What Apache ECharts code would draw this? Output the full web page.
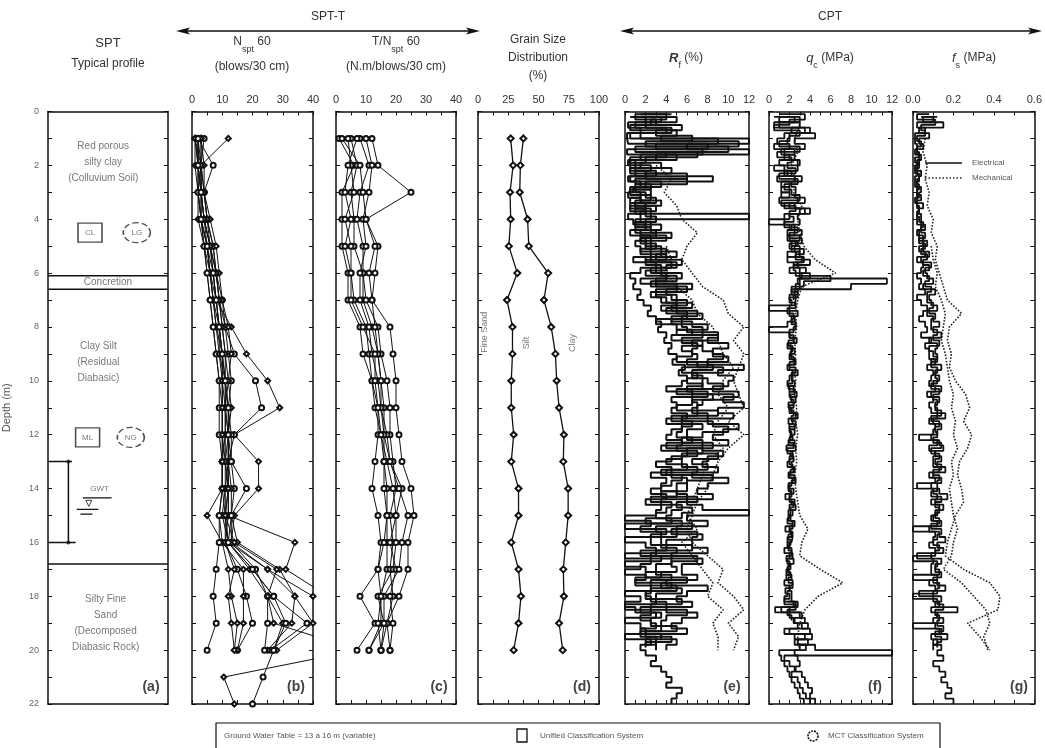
<!DOCTYPE html>
<html><head><meta charset="utf-8">
<script src="https://cdn.jsdelivr.net/npm/echarts/dist/echarts.min.js"></script>
<style>html,body{margin:0;padding:0;background:#fff}#c{width:1045px;height:748px}</style>
</head><body><div id="c"></div><script>
// ---------------- DATA ----------------
const SPT_DEPTHS = [1,2,3,4,5,6,7,8,9,10,11,12,13,14,15,16,17,18,19,20,21,22];
// N_spt60 (blows/30 cm), one list per borehole, depth 1..22 m
const N60_BOREHOLES = [
  [1,1,2,2,4,5,6,7,8,9,10,10,10,10,9,10,12,13,15,14],
  [2,2,3,3,5,6,7,8,9,11,11,11,11,11,11,11,15,18,20,15],
  [3,3,3,4,6,7,8,9,10,10,10,10,11,12,11,12,19,25,30,27],
  [12,3,2,3,4,6,8,13,18,25,29,14,22,22,14,13,25,40,45],
  [2,7,4,5,7,8,9,11,14,21,23,14,12,11,10,12,20,27,38,26],
  [1,2,2,3,5,6,7,9,10,10,11,11,10,10,5,10,17,17,17,15],
  [2,3,3,4,6,8,9,10,11,11,12,12,12,12,11,12,25,34,33,25],
  [4,3,4,5,7,8,10,11,12,13,12,13,13,14,13,13,21,25,25,24],
  [3,4,4,6,8,9,10,12,13,12,13,12,12,12,12,34,31,45],
  [1,2,3,4,5,6,7,8,10,11,11,12,12,13,13,15,29,34,40,28],
  [2,2,2,3,4,5,6,7,8,9,9,9,10,10,9,9,8,7,8,5],
  [3,3,4,5,6,8,9,10,11,12,11,12,11,12,12,11,14,12,13,14],
  [1,3,3,4,6,7,8,9,9,10,10,10,10,10,11,14,28,25,27,55,10.5,14],
  [2,2,3,3,5,7,8,9,10,11,12,12,13,18,13,12,20,27,31,27,23.5,20]
];
// T/N_spt60 (N.m/blows/30 cm), depth 1..20 m
const TN60_BOREHOLES = [
  [1,6,2,2,2,4,4,8,9,12,14,14,13,12,14,15,14,8,13,7],
  [5,7,5,6,6,9,9,12,14,15,16,16,16,17,17,17,17,15,15,11],
  [8,11,8,7,9,9,10,14,15,17,18,18,19,20,18,19,18,19,17,15],
  [12,14,25,10,14,13,12,18,19,20,20,21,22,25,26,24,24,21,17,18],
  [4,5,6,3,5,5,6,10,11,12,13,15,17,19,20,20,19,14,16,15],
  [10,12,11,9,10,8,8,11,12,14,15,17,18,22,20,18,20,18,19,18],
  [2,8,9,10,13,11,12,13,14,15,15,16,18,21,24,22,21,16,16,11],
  [7,4,3,5,3,5,5,9,13,13,14,15,16,16,17,16,14,15,14,15]
];
// Grain size distribution (%), cumulative, depth 1..20 m
const FINE_SAND = [27,29,26.5,27,25.5,32.5,24,28.5,28.5,27.5,27.5,29.5,27.5,33.5,33.5,27.5,33.5,35.5,33.5,29.5];
const FINE_SAND_PLUS_SILT = [37.5,35,34.5,41,42,58,54.5,60.5,64,65,67,71,70.5,74.5,74.5,72.5,70.5,71,67,70];

// CPT electrical readings every 0.2 m (traces start at 0.2 m or 0.1 m)
const CPT_STEP = 0.2;
const START_A = 0.2, START_B = 0.1;
const RF_E1 = [
 3.5,5.0,2.0,4.5,1.5, 12,6.0,12,3.0,1.0, 2.5,1.0,8.5,2.0,0.5, 2.0,3.0,1.0,2.5,12,
 2.0,3.5,1.5,4.0,2.5, 3.5,5.0,2.5,4.5,3.0, 5.5,3.0,6.5,4.0,5.0, 6.0,4.5,7.0,5.5,6.5,
 7.5,9.0,8.0,10.0,8.5, 9.5,8.0,11.5,9.0,10.5, 10.0,8.5,11.0,9.5,11.5, 9.0,10.5,8.0,11.0,9.5,
 8.5,10.0,7.5,9.5,8.0, 7.5,9.0,6.5,10.0,8.0, 7.0,8.5,6.0,7.5,12, 6.0,8.0,5.0,7.0,6.5,
 6.5,8.0,4.5,7.5,5.5, 5.5,7.0,4.0,8.0,6.0, 5.0,6.5,4.0,7.0,5.5, 4.5,6.0,3.5,5.0,4.0];
const RF_E2 = [
 0.5,2.0,0.3,1.5,0.2, 0.3,8.0,0.2,5.0,0.3, 0.5,2.0,0.3,3.5,0.8, 0.3,1.5,0.5,2.0,0.3,
 0.8,2.0,0.5,2.5,1.0, 1.5,2.5,0.8,3.0,1.5, 0.5,1.0,0.8,1.5,1.2, 1.8,2.5,2.2,3.0,3.5,
 3.2,4.0,3.8,4.5,4.2, 5.0,4.6,5.8,5.2,6.0, 5.5,4.0,6.5,4.5,5.0, 4.5,6.0,4.0,5.5,4.5,
 4.0,5.5,3.5,6.0,4.5, 3.0,4.5,2.5,4.0,3.5, 2.5,4.0,2.0,3.5,3.0, 0,2.5,1.5,3.5,0,
 2.0,3.0,0,2.5,1.5, 0,2.0,1.0,2.5,0, 1.5,0,1.0,3.0,0, 1.5,2.0,0,2.5,1.5,
 2.0,3.0,2.5,3.5,4.0, 4.5,4.0,5.5,5.0,4.5];
const RF_E3 = [
 2.0,3.5,1.0,4.0,0.5, 9.0,3.0,7.5,1.5,0.5, 1.0,3.0,0.5,1.5,1.0, 1.5,0.5,2.0,1.0,2.5,
 1.0,2.0,3.0,1.5,2.0, 2.5,3.5,2.0,5.0,2.5, 4.0,1.5,5.0,3.0,4.5, 5.0,3.5,6.0,4.5,5.5,
 6.0,7.5,5.5,7.0,6.5, 7.0,6.0,8.5,6.5,7.5, 7.5,6.0,8.0,6.5,7.0, 6.5,8.0,5.5,7.5,6.0,
 6.0,7.5,5.0,7.0,5.5, 5.5,7.0,4.5,6.0,5.0, 5.0,6.0,3.5,5.5,4.5, 4.0,5.5,3.0,5.0,3.5,
 3.5,5.0,2.5,4.5,3.0, 3.0,4.5,2.5,5.0,2.0, 2.5,4.0,1.5,3.5,2.5, 3.0,1.5,3.5,2.0,3.0];
const RF_E4 = [
 1.5,4.0,2.5,5.5,3.0, 6.5,2.0,10.0,4.0,2.0, 1.5,4.5,2.0,6.0,1.0, 2.5,1.5,3.5,0.5,2.0,
 3.0,1.0,2.5,4.5,1.5, 2.0,4.0,3.0,5.5,4.0, 3.5,5.0,2.5,6.0,3.0, 4.0,6.5,5.0,7.5,4.5,
 8.0,5.0,9.0,6.5,7.5, 8.5,10.0,7.0,9.5,6.5, 8.0,9.5,6.5,10.5,7.5, 7.0,9.0,5.5,8.5,10.0,
 7.5,5.5,8.5,6.0,9.0, 6.5,8.0,4.0,8.5,6.0, 6.0,3.5,7.0,5.0,6.5, 5.5,2.0,6.5,4.5,7.5,
 4.0,6.5,3.0,7.0,4.5, 5.0,2.0,6.0,3.5,5.5, 3.0,5.5,2.5,6.0,4.0, 3.5,5.0,2.0,4.5,3.0];
const RF_E5 = [
 4.5,1.0,3.0,0.5,5.0, 3.5,11.0,1.0,7.0,0.5, 3.5,0.5,6.0,1.0,2.5, 0.5,2.5,1.0,3.0,1.5,
 1.5,2.5,1.0,3.0,2.0, 3.0,1.5,4.0,2.0,3.5, 2.0,4.0,3.0,5.0,2.5, 3.5,5.0,4.0,6.0,3.0,
 5.0,6.5,4.5,7.5,5.5, 6.5,5.0,8.0,5.5,7.0, 6.0,7.5,5.0,8.5,6.5, 5.0,7.0,4.5,6.5,5.5,
 5.0,6.5,4.0,7.5,5.5, 4.0,6.0,3.5,5.5,4.5, 3.5,5.0,2.5,4.5,4.0, 3.0,4.5,0,4.0,2.5,
 2.5,4.0,1.5,3.5,0, 2.0,3.5,1.0,4.5,2.5, 2.0,3.0,0,2.5,1.5, 2.5,3.5,1.5,3.0,2.0];
const QC_E1 = [
 0.5,2.5,1.0,3.5,1.5, 0.8,2.0,1.2,2.5,1.0, 1.5,2.2,0.8,2.0,1.2, 2.0,1.0,2.5,3.5,1.5,
 0,2.0,2.5,1.8,2.8, 2.2,3.0,1.8,2.8,2.0, 3.0,11.5,8.0,2.5,2.0, 2.2,0,2.0,2.5,1.8,
 0,2.0,2.4,1.8,2.2, 2.0,2.5,1.8,2.3,2.0, 1.8,2.4,2.0,2.6,1.9, 2.2,2.8,1.9,2.5,2.1,
 2.0,2.5,1.7,2.3,2.0, 1.8,2.4,2.0,2.6,1.9, 2.1,1.6,2.5,2.0,2.3, 1.9,2.3,1.6,2.2,1.8,
 2.0,1.5,2.3,1.8,2.1, 1.7,2.2,1.5,2.0,1.8, 1.5,2.4,0.6,2.0,2.5, 2.8,1.5,3.5,2.5,4.5,
 12,1.5,2.0,2.5,2.2, 2.8,3.0,3.3,3.6,4.0];
const QC_E2 = [
 1.5,3.0,0.5,4.0,2.0, 1.8,0.5,2.5,1.5,2.8, 0.5,1.8,2.5,1.2,2.0, 1.2,2.8,1.5,3.0,2.0,
 1.5,2.5,1.8,3.0,2.2, 2.5,1.8,3.2,2.4,3.0, 4.0,2.8,3.0,2.2,2.6, 2.5,2.0,2.8,2.2,2.6,
 2.4,2.0,2.7,2.1,2.5, 2.2,2.6,2.0,2.8,2.3, 2.5,2.0,2.7,2.2,2.4, 2.0,2.6,2.3,2.0,2.5,
 2.3,1.9,2.6,2.1,2.4, 2.2,2.5,1.9,2.3,2.0, 2.4,2.0,2.2,2.6,1.9, 2.1,2.5,2.0,2.3,2.2,
 1.8,2.2,2.0,2.4,1.9, 2.0,1.7,2.3,2.0,2.2, 2.2,2.8,2.0,3.0,3.5, 3.2,4.0,2.5,3.8,3.0,
 2.5,2.8,3.0,2.6,3.2, 3.5,3.8,4.2,4.0,4.5];
const QC_E3_TOP = [
 2.0,1.0,3.0,2.2,4.5, 2.5,3.5,1.5,2.0,3.0, 2.8,1.5,3.2,2.2,2.6, 2.5,3.5,2.0,4.0,2.8,
 3.0,2.2,3.2,2.0,2.6, 3.0,2.6,3.4,2.8,3.6, 3.2,3.0,2.6,2.8,2.4];
const QC_E3_BOTTOM = [1.8,2.6,1.2,3.2,2.4, 3.8,2.0,4.2,2.8,3.6, 1.0,1.2,1.5,1.8,2.0, 2.2,2.5,2.8,3.0,3.4];
const QC_E3_BOTTOM_START = 18.2;
const QC_E4 = [
 1.0,3.5,2.0,0.5,3.0, 2.0,1.0,3.0,0.8,2.2, 1.8,2.6,1.0,2.8,1.5, 2.2,3.0,1.2,2.6,2.0,
 2.4,1.5,2.8,2.0,3.2, 2.0,3.4,2.6,4.0,2.4, 2.6,6.0,3.4,2.2,2.8, 2.0,2.6,1.8,2.4,2.2,
 2.6,2.0,2.4,1.9,2.3, 2.1,2.4,2.0,2.6,2.2, 2.3,1.9,2.5,2.1,2.4, 2.0,2.4,2.2,2.6,2.0,
 2.2,2.0,2.4,1.8,2.3, 2.0,2.3,2.1,2.5,2.2, 1.9,2.2,2.0,2.4,2.1, 2.0,1.8,2.3,2.1,1.9,
 2.1,1.9,2.2,1.7,2.0, 1.8,2.1,1.9,2.3,1.6, 2.0,1.5,2.6,1.8,2.2];
const FS_E1 = [
 0.12,0.05,0.15,0.03,0.08, 0.03,0.05,0.02,0.04,0.03, 0.02,0.04,0.03,0.02,0.04, 0.03,0.02,0.05,0.03,0.04,
 0.04,0.06,0.03,0.05,0.07, 0.05,0.08,0.04,0.09,0.06, 0.07,0.10,0.05,0.11,0.08, 0.09,0.12,0.07,0.10,0.13,
 0.10,0.14,0.08,0.12,0.11, 0.12,0.09,0.14,0.11,0.13, 0.10,0.14,0.09,0.13,0.11, 0.12,0.16,0.10,0.14,0.12,
 0.03,0.13,0.15,0.11,0.14, 0.12,0.16,0.10,0.14,0.02, 0.13,0.17,0.11,0.15,0.12, 0.10,0.14,0.00,0.13,0.16,
 0.12,0.15,0.09,0.14,0.11, 0.13,0.00,0.12,0.16,0.10, 0.14,0.11,0.22,0.12,0.15, 0.00,0.13,0.17,0.10,0.14,
 0.12,0.15,0.10,0.13,0.16, 0.14,0.17,0.19,0.16,0.20];
const FS_E2 = [
 0.04,0.10,0.02,0.06,0.01, 0.01,0.02,0.01,0.03,0.02, 0.01,0.02,0.01,0.01,0.02, 0.02,0.01,0.02,0.03,0.02,
 0.02,0.04,0.02,0.03,0.05, 0.03,0.06,0.02,0.05,0.04, 0.02,0.04,0.03,0.06,0.02, 0.04,0.07,0.05,0.03,0.06,
 0.07,0.04,0.09,0.06,0.08, 0.08,0.11,0.07,0.10,0.09, 0.08,0.11,0.07,0.10,0.08, 0.09,0.12,0.08,0.11,0.10,
 0.09,0.12,0.08,0.11,0.10, 0.10,0.13,0.08,0.11,0.09, 0.10,0.12,0.09,0.13,0.11, 0.09,0.12,0.08,0.11,0.10,
 0.08,0.11,0.02,0.10,0.09, 0.09,0.12,0.08,0.11,0.03, 0.10,0.13,0.09,0.12,0.10, 0.11,0.14,0.09,0.12,0.10];
const FS_E3 = [
 0.08,0.02,0.11,0.04,0.06, 0.02,0.04,0.02,0.03,0.01, 0.03,0.01,0.03,0.02,0.03, 0.02,0.04,0.02,0.03,0.02,
 0.03,0.05,0.04,0.06,0.03, 0.06,0.04,0.07,0.05,0.08, 0.05,0.08,0.06,0.09,0.07, 0.07,0.10,0.08,0.11,0.09,
 0.09,0.12,0.10,0.13,0.08, 0.10,0.12,0.09,0.12,0.11, 0.12,0.09,0.13,0.10,0.12, 0.11,0.14,0.09,0.13,0.11,
 0.12,0.10,0.14,0.09,0.13, 0.11,0.14,0.10,0.13,0.12, 0.12,0.09,0.14,0.11,0.13, 0.11,0.13,0.09,0.14,0.12,
 0.10,0.13,0.11,0.00,0.12, 0.11,0.14,0.10,0.13,0.12, 0.00,0.12,0.15,0.11,0.13, 0.12,0.15,0.11,0.14,0.12];

// CPT mechanical readings every 0.5 m
const MECH_STEP = 0.5;
const RF_M1_START = 2.0;
const RF_M1 = [3.0,4.5,3.8,5.0,5.5,7.0,6.0,5.5,6.5,7.5,9.5,10.0,11.5,10.5,11.5,11.0,10.5,11.0,11.5,10.0,11.5,10.0,9.0,8.5,8.0,7.0,6.5,6.0,6.5,8.0,9.5,9.0,10.5,11.5,10.0,11.0,10.5];
const RF_M2_START = 5.0;
const RF_M2 = [4.0,4.5,4.0,5.0,6.5,7.0,8.5,9.0,9.5,10.5,9.5,9.0,10.0,9.0,8.5,9.5,8.0,7.5,7.0,6.5,6.0,7.0,5.5,6.5,7.5,8.5,8.0,9.5,8.5,9.0,9.0];
const QC_M1_START = 0.5;
const QC_M1 = [3.0,2.5,2.8,2.2,2.6,2.4,3.2,2.8,3.0,3.4,4.5,6.5,3.2,2.8,2.6,2.7,2.5,2.6,2.4,2.6,2.5,2.7,2.6,2.8,2.6,2.7,2.5,2.6,2.8,3.0,3.8,3.2,3.0,5.0,7.2,4.8,3.5,3.0,2.8,3.0];
const FS_M1_START = 1.0;
const FS_M1 = [0.06,0.05,0.07,0.06,0.08,0.07,0.10,0.09,0.12,0.11,0.13,0.15,0.17,0.24,0.18,0.17,0.19,0.18,0.21,0.26,0.28,0.25,0.29,0.27,0.23,0.22,0.24,0.25,0.21,0.19,0.17,0.16,0.25,0.38,0.43,0.42,0.27,0.33,0.38];
const FS_M2_START = 5.0;
const FS_M2 = [0.09,0.10,0.12,0.11,0.14,0.16,0.15,0.14,0.16,0.17,0.18,0.20,0.19,0.21,0.20,0.22,0.19,0.20,0.18,0.19,0.20,0.22,0.20,0.19,0.15,0.24,0.30,0.36,0.38,0.35,0.37];

// Profile (a)
const LAYER_BOUNDARIES = [6.1, 6.6, 16.8];
const GWT_RANGE = [13, 16];
const GWT_LEVEL = 14.35;

// Axis scales: [min, max, label interval]
const DEPTH_MIN = 0, DEPTH_MAX = 22, DEPTH_INTERVAL = 2;
const X_SCALES = [[0,1,1],[0,40,10],[0,40,10],[0,100,25],[0,12,2],[0,12,2],[0,0.6,0.2]];

// ---------------- LAYOUT ----------------
const FONT = 'Liberation Sans, Arial, sans-serif';
const GRID_TOP = 111.5, GRID_H = 592.5;
const GRID_BOXES = [[48,120],[192,121],[336,120],[478,121],[625,124],[769,123],[913,123]];
const INK = '#111';

const grids = GRID_BOXES.map(([l,w]) => ({left:l, width:w, top:GRID_TOP, height:GRID_H, containLabel:false}));
const xAxes = [], yAxes = [];
GRID_BOXES.forEach((g, i) => {
  const [mn, mx, iv] = X_SCALES[i];
  const ticks = i > 0;
  const base = {gridIndex:i, type:'value', min:mn, max:mx, interval:iv,
    axisLine:{show:true, onZero:false, lineStyle:{color:INK, width:1.5}},
    axisTick:{show:ticks, inside:true, length:4, lineStyle:{color:INK, width:1}},
    minorTick:{show:ticks, splitNumber:2, length:4, lineStyle:{color:INK, width:1}},
    splitLine:{show:false}, minorSplitLine:{show:false}};
  const lab = {show:ticks, color:'#333', fontSize:11, fontFamily:FONT, margin:6};
  if (i === 6) lab.formatter = v => v.toFixed(1);
  xAxes.push(Object.assign({}, base, {position:'top', axisLabel:lab}));
  xAxes.push(Object.assign({}, base, {position:'bottom', axisLabel:{show:false}}));
  const yb = {gridIndex:i, type:'value', inverse:true, min:DEPTH_MIN, max:DEPTH_MAX, interval:DEPTH_INTERVAL,
    axisLine:{show:true, onZero:false, lineStyle:{color:INK, width:1.5}},
    axisTick:{show:true, inside:true, length:4, lineStyle:{color:INK, width:1}},
    minorTick:{show:true, splitNumber:2, length:4, lineStyle:{color:INK, width:1}},
    splitLine:{show:false}, minorSplitLine:{show:false}};
  const left = Object.assign({}, yb, {position:'left',
    axisLabel:{show:i===0, color:'#666', fontSize:9, fontFamily:FONT, margin:9}});
  if (i === 0) Object.assign(left, {name:'Depth (m)', nameLocation:'middle', nameGap:36, nameRotate:90,
    nameTextStyle:{color:'#555', fontSize:11, fontFamily:FONT}});
  yAxes.push(left);
  yAxes.push(Object.assign({}, yb, {position:'right', axisLabel:{show:false}}));
});

const series = [];
const ax = i => ({xAxisIndex:2*i, yAxisIndex:2*i});

// ---- (a) profile
LAYER_BOUNDARIES.forEach(b => series.push(Object.assign({type:'line', data:[[0,b],[1,b]], symbol:'none',
  lineStyle:{color:INK, width:1.5}, silent:true}, ax(0))));
const seg = (pts, w) => series.push(Object.assign({type:'line', data:pts, symbol:'none',
  lineStyle:{color:INK, width:w}, silent:true}, ax(0)));
seg([[0,GWT_RANGE[0]],[0.2,GWT_RANGE[0]]], 1.5);
seg([[0.17,GWT_RANGE[0]],[0.17,GWT_RANGE[1]]], 1.5);
seg([[0,GWT_RANGE[1]],[0.23,GWT_RANGE[1]]], 1.5);
seg([[0.29,GWT_LEVEL],[0.53,GWT_LEVEL]], 1.3);
seg([[0.24,GWT_LEVEL+0.42],[0.42,GWT_LEVEL+0.42]], 1.3);
seg([[0.27,GWT_LEVEL+0.6],[0.37,GWT_LEVEL+0.6]], 1.3);
series.push(Object.assign({type:'scatter', data:[[0.34,GWT_LEVEL+0.2]], symbol:'triangle', symbolRotate:180,
  symbolSize:[6,6], itemStyle:{color:'#fff', borderColor:INK, borderWidth:1}, silent:true}, ax(0)));
series.push(Object.assign({type:'scatter', data:[[0.17,GWT_RANGE[0]],[0.17,GWT_RANGE[1]]], symbol:'circle',
  symbolSize:4, itemStyle:{color:INK}, silent:true}, ax(0)));

const txt = (x, d, t, opts) => series.push(Object.assign({type:'scatter', data:[[x,d]], symbolSize:1,
  itemStyle:{color:'rgba(0,0,0,0)'}, silent:true,
  label:Object.assign({show:true, position:'inside', formatter:t, color:'#555', fontSize:10,
    fontFamily:FONT, lineHeight:16, align:'center', verticalAlign:'middle'}, opts||{})}, ax(0)));
txt(0.46, 1.9, 'Red porous\nsilty clay\n(Colluvium Soil)');
txt(0.5, 6.35, 'Concretion');
txt(0.42, 9.3, 'Clay Silt\n(Residual\nDiabasic)');
txt(0.48, 19.0, 'Silty Fine\nSand\n(Decomposed\nDiabasic Rock)');
txt(0.43, 14.0, 'GWT', {fontSize:8});

const sym = (x, d, t, shape) => series.push(Object.assign({type:'scatter', data:[[x,d]],
  symbol: shape === 'rect' ? 'rect' : 'circle', symbolSize: shape === 'rect' ? [24,19] : [27,20],
  itemStyle:{color:'#fff', borderColor:'#222', borderWidth:1.4, borderType: shape === 'rect' ? 'solid' : 'dashed'},
  label:{show:true, position:'inside', formatter:t, color:'#555', fontSize:8, fontFamily:FONT}, silent:true}, ax(0)));
sym(0.35, 4.5, 'CL', 'rect');
sym(0.74, 4.5, 'LG', 'ell');
sym(0.33, 12.1, 'ML', 'rect');
sym(0.69, 12.1, 'NG', 'ell');

// ---- (b) N60
N60_BOREHOLES.forEach((arr, k) => series.push(Object.assign({type:'line',
  data: arr.map((v, j) => [v, SPT_DEPTHS[j]]),
  symbol: k % 3 === 1 ? 'emptyCircle' : 'emptyDiamond', symbolSize: 5, showAllSymbol:true,
  lineStyle:{color:INK, width:1}, itemStyle:{color:INK, borderWidth:1}, clip:true, silent:true}, ax(1))));

// ---- (c) T/N60
TN60_BOREHOLES.forEach(arr => series.push(Object.assign({type:'line',
  data: arr.map((v, j) => [v, SPT_DEPTHS[j]]),
  symbol:'emptyCircle', symbolSize:5, lineStyle:{color:INK, width:1}, itemStyle:{color:INK, borderWidth:1},
  clip:true, silent:true}, ax(2))));

// ---- (d) grain size
[FINE_SAND, FINE_SAND_PLUS_SILT].forEach(arr => series.push(Object.assign({type:'line',
  data: arr.map((v, j) => [v, SPT_DEPTHS[j]]),
  symbol:'emptyDiamond', symbolSize:6, lineStyle:{color:INK, width:1.3}, itemStyle:{color:INK, borderWidth:1},
  silent:true}, ax(3))));
const dtxt = (x, d, t) => series.push(Object.assign({type:'scatter', data:[[x,d]], symbolSize:1,
  itemStyle:{color:'rgba(0,0,0,0)'}, silent:true,
  label:{show:true, position:'inside', formatter:t, rotate:90, color:'#555', fontSize:9, fontFamily:FONT}}, ax(3)));
dtxt(5, 8.2, 'Fine Sand');
dtxt(40, 8.6, 'Silt');
dtxt(78, 8.6, 'Clay');

// ---- CPT helpers
const cptData = (arr, start, step) => arr.map((v, j) => [v, +(start + j * step).toFixed(2)]);
const elec = (arr, start, panel, w) => series.push(Object.assign({type:'line', data:cptData(arr, start, CPT_STEP),
  symbol:'none', step:'end', lineStyle:{color:INK, width:w || 1.6}, clip:true, silent:true}, ax(panel)));
const mech = (arr, start, panel) => series.push(Object.assign({type:'line', data:cptData(arr, start, MECH_STEP),
  symbol:'none', lineStyle:{color:'#222', width:1.6, type:'dotted'}, clip:true, silent:true}, ax(panel)));

mech(RF_M1, RF_M1_START, 4); mech(RF_M2, RF_M2_START, 4);
elec(RF_E1, START_A, 4, 2); elec(RF_E2, START_A, 4, 2); elec(RF_E3, START_A, 4, 2);
elec(RF_E4, START_B, 4, 2); elec(RF_E5, START_B, 4, 2);
mech(QC_M1, QC_M1_START, 5);
elec(QC_E1, START_A, 5, 1.8); elec(QC_E2, START_A, 5, 1.8); elec(QC_E3_TOP, START_A, 5, 1.8);
elec(QC_E3_BOTTOM, QC_E3_BOTTOM_START, 5, 1.8); elec(QC_E4, START_B, 5, 1.8);
mech(FS_M1, FS_M1_START, 6); mech(FS_M2, FS_M2_START, 6);
elec(FS_E1, START_A, 6, 1.8); elec(FS_E2, START_A, 6, 1.8); elec(FS_E3, START_B, 6, 1.8);

// ---------------- GRAPHICS (titles, arrows, legend) ----------------
const T = (x, y, text, size, extra) => ({type:'text', x, y, silent:true,
  style:Object.assign({text, fill:'#333', fontSize:size, fontFamily:FONT, align:'center', verticalAlign:'middle'}, extra||{})});
const sub = {
  n:{fontSize:12, fontFamily:FONT, fill:'#333', lineHeight:18, verticalAlign:'top'},
  s:{fontSize:9, fontFamily:FONT, fill:'#333', lineHeight:18, verticalAlign:'bottom'},
  i:{fontSize:13, fontFamily:FONT, fill:'#333', fontStyle:'italic', fontWeight:'bold', lineHeight:18, verticalAlign:'top'},
  j:{fontSize:13, fontFamily:FONT, fill:'#333', fontStyle:'italic', lineHeight:18, verticalAlign:'top'}
};
const arrow = (x1, x2, y) => [
  {type:'line', silent:true, shape:{x1:x1+6, y1:y, x2:x2-6, y2:y}, style:{stroke:INK, lineWidth:1.6}},
  {type:'polygon', silent:true, shape:{points:[[x1,y],[x1+14,y-3.5],[x1+11,y],[x1+14,y+3.5]]}, style:{fill:INK}},
  {type:'polygon', silent:true, shape:{points:[[x2,y],[x2-14,y-3.5],[x2-11,y],[x2-14,y+3.5]]}, style:{fill:INK}}
];
const graphics = [
  T(108, 43, 'SPT', 13), T(108, 64, 'Typical profile', 12),
  T(328, 17, 'SPT-T', 12), T(830, 17, 'CPT', 12),
  T(252, 45, '{n|N}{s|spt}{n| 60}', 12, {rich:sub}), T(252, 67, '(blows/30 cm)', 12),
  T(396, 45, '{n|T/N}{s|spt}{n| 60}', 12, {rich:sub}), T(396, 67, '(N.m/blows/30 cm)', 12),
  T(538, 40, 'Grain Size', 12), T(538, 58, 'Distribution', 12), T(538, 76, '(%)', 12),
  T(686, 61, '{i|R}{s|f}{n| (%)}', 12, {rich:sub}),
  T(830, 61, '{j|q}{s|c}{n| (MPa)}', 12, {rich:sub}),
  T(974, 61, '{j|f}{s|s}{n| (MPa)}', 12, {rich:sub}),
  ...arrow(176, 480, 31), ...arrow(620, 1042, 31),
  // electrical / mechanical key inside (g)
  {type:'line', silent:true, shape:{x1:925, y1:163, x2:962, y2:163}, style:{stroke:INK, lineWidth:1.3}},
  {type:'line', silent:true, shape:{x1:925, y1:178, x2:962, y2:178}, style:{stroke:'#222', lineWidth:1.6, lineDash:[1.5,2]}},
  T(972, 163, 'Electrical', 8, {align:'left', fill:'#555'}),
  T(972, 178, 'Mechanical', 8, {align:'left', fill:'#555'}),
  // bottom legend
  {type:'rect', silent:true, shape:{x:216, y:723, width:724, height:30}, style:{fill:'none', stroke:INK, lineWidth:1.2}},
  T(224, 736, 'Ground Water Table = 13 a 16 m (variable)', 8, {align:'left', fill:'#555'}),
  {type:'rect', silent:true, shape:{x:517, y:729, width:10, height:13}, style:{fill:'#fff', stroke:INK, lineWidth:1.3}},
  T(540, 736, 'Unified Classification System', 8, {align:'left', fill:'#555'}),
  {type:'circle', silent:true, shape:{cx:813, cy:736, r:5}, style:{fill:'#fff', stroke:INK, lineWidth:1.6, lineDash:[2,1]}},
  T(828, 736, 'MCT Classification System', 8, {align:'left', fill:'#555'})
];
['(a)','(b)','(c)','(d)','(e)','(f)','(g)'].forEach((t, i) => {
  const [l, w] = GRID_BOXES[i];
  graphics.push(T(l + w - 17, 687, t, 14, {fontWeight:'bold', fill:'#444'}));
});

const chart = echarts.init(document.getElementById('c'), null, {renderer:'canvas'});
chart.setOption({
  animation:false, backgroundColor:'#fff',
  grid:grids, xAxis:xAxes, yAxis:yAxes, series, graphic:graphics
});
</script></body></html>
